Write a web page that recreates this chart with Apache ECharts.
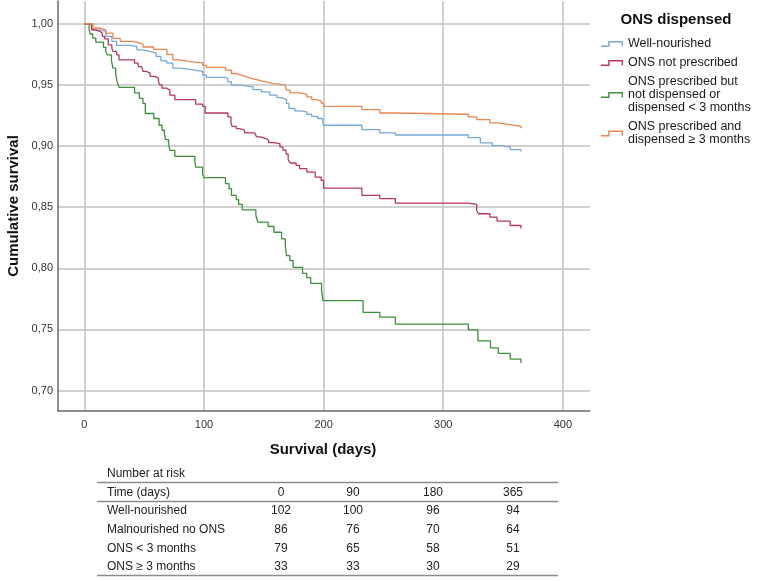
<!DOCTYPE html>
<html>
<head>
<meta charset="utf-8">
<script src="https://cdn.jsdelivr.net/npm/echarts@6/dist/echarts.min.js"></script>
<style>
  html, body { margin: 0; padding: 0; background: #fff; }
  #chart { width: 767px; height: 581px; }
</style>
</head>
<body>
<div id="chart"></div>
<script>
// Kaplan-Meier curves (day, cumulative survival after the drop)
const wellDays = [0, 7, 13, 18, 23, 27, 38, 44, 49, 55, 60, 64, 69, 74, 80, 91, 99, 102, 118, 120, 123, 130, 141, 148, 155, 161, 165, 169, 171, 176, 180, 186, 190, 195, 199, 200, 232, 247, 260, 321, 331, 341, 349, 356, 365]
const wellSurv = [1, 0.995, 0.9938, 0.9897, 0.9856, 0.9823, 0.9815, 0.9787, 0.9774, 0.976, 0.9733, 0.9697, 0.9678, 0.9637, 0.9623, 0.961, 0.958, 0.9561, 0.9552, 0.9525, 0.9498, 0.9484, 0.9462, 0.9443, 0.9416, 0.9396, 0.938, 0.9348, 0.9307, 0.9287, 0.9279, 0.926, 0.9243, 0.9225, 0.921, 0.917, 0.9134, 0.9107, 0.909, 0.9069, 0.9025, 0.9003, 0.8992, 0.897, 0.8955]

const noOnsDays = [0, 6, 9, 13, 15, 17, 20, 23, 24, 27, 29, 42, 45, 48, 49, 52, 55, 59, 62, 63, 65, 69, 71.5, 75.7, 93, 99, 101, 120, 122.6, 123.5, 127, 130, 134, 142.5, 144, 147, 152, 154, 158, 163.5, 166, 168.6, 170.4, 172, 177, 180, 186, 193, 198, 200, 232, 247, 260, 321, 328, 329.5, 339, 345, 356, 365]
const noOnsSurv = [1, 0.995, 0.9938, 0.9924, 0.9897, 0.9877, 0.9828, 0.98, 0.9774, 0.9746, 0.9705, 0.9678, 0.965, 0.9637, 0.961, 0.9596, 0.9569, 0.9555, 0.9528, 0.95, 0.9473, 0.9457, 0.9416, 0.938, 0.9342, 0.9325, 0.927, 0.9238, 0.9189, 0.9161, 0.9143, 0.9129, 0.9107, 0.9096, 0.9074, 0.9061, 0.9047, 0.9028, 0.902, 0.8993, 0.8966, 0.8934, 0.8889, 0.8861, 0.8842, 0.8815, 0.8787, 0.8746, 0.8719, 0.8656, 0.8596, 0.857, 0.8533, 0.8522, 0.8473, 0.8446, 0.8418, 0.8385, 0.835, 0.8325]

const shortDays = [0, 4, 5, 7, 9.6, 16, 18, 19, 22.7, 24, 26.3, 27.4, 29, 42, 46, 49, 51, 58, 62.5, 65, 67, 68, 70.4, 71.5, 75.7, 92.4, 93.2, 98.8, 100, 118, 121, 123, 127, 129, 132, 143.4, 145, 153.7, 158.5, 164.9, 168, 169, 171.8, 174.6, 182.4, 185.8, 189.2, 198.3, 199.5, 233, 247, 260, 321, 329, 339.5, 346, 356, 365]
const shortSurv = [1, 0.995, 0.9916, 0.9883, 0.985, 0.9807, 0.9774, 0.9746, 0.9697, 0.9637, 0.9582, 0.9528, 0.948, 0.9434, 0.9389, 0.9348, 0.9266, 0.9225, 0.917, 0.9129, 0.91, 0.9052, 0.9025, 0.8965, 0.8916, 0.8869, 0.8828, 0.8774, 0.8742, 0.8692, 0.8651, 0.8596, 0.8561, 0.8522, 0.8478, 0.8432, 0.8377, 0.8342, 0.8295, 0.8241, 0.8186, 0.8104, 0.8063, 0.8008, 0.7959, 0.7923, 0.7877, 0.7817, 0.7735, 0.764, 0.76, 0.7544, 0.7497, 0.7407, 0.735, 0.7304, 0.7257, 0.7225]

const longDays = [0, 7, 13, 18, 24, 30, 40, 44, 49, 58, 69, 74, 80, 88, 99, 102, 118, 123, 127, 131, 136, 140, 144, 148, 154, 158, 163, 168, 169, 172, 180, 186, 190, 194, 198, 200, 232, 247, 260, 321, 328, 339, 346, 356, 365]
const longSurv = [1, 0.9965, 0.995, 0.9924, 0.988, 0.9856, 0.985, 0.9834, 0.981, 0.979, 0.975, 0.9705, 0.969, 0.968, 0.966, 0.9643, 0.962, 0.9593, 0.958, 0.9566, 0.9552, 0.9544, 0.9533, 0.952, 0.9511, 0.9506, 0.9498, 0.9484, 0.9457, 0.9434, 0.9424, 0.9402, 0.938, 0.9369, 0.9352, 0.9325, 0.9298, 0.927, 0.926, 0.9238, 0.9216, 0.919, 0.9175, 0.916, 0.9145]

const seriesNames = ['Well-nourished', 'ONS not prescribed', 'ONS prescribed but not dispensed or dispensed < 3 months', 'ONS prescribed and dispensed ≥ 3 months']
const legendLabels = ['Well-nourished', 'ONS not prescribed', 'ONS prescribed but\nnot dispensed or\ndispensed < 3 months', 'ONS prescribed and\ndispensed ≥ 3 months']
const seriesColors = ['#76a8da', '#b5375c', '#3f8f3f', '#e8874f']

const xTicks = [0, 100, 200, 300, 400]
const yTicks = [0.70, 0.75, 0.80, 0.85, 0.90, 0.95, 1.00]

// number at risk table
const riskTimes = ['0', '90', '180', '365']
const riskGroups = ['Well-nourished', 'Malnourished no ONS', 'ONS < 3 months', 'ONS ≥ 3 months']
const riskWell = [102, 100, 96, 94]
const riskNoOns = [86, 76, 70, 64]
const riskShort = [79, 65, 58, 51]
const riskLong = [33, 33, 30, 29]

const font = '"Liberation Sans", Arial, sans-serif'
const toPairs = (days, surv) => days.map((d, i) => [d, surv[i]])
const curves = [toPairs(wellDays, wellSurv), toPairs(noOnsDays, noOnsSurv), toPairs(shortDays, shortSurv), toPairs(longDays, longSurv)]

// small step glyph like the SPSS legend
const stepIcon = 'path://M0,4.4 L7.2,4.4 L7.2,0 L22,0 L22,5.2 L20.6,5.2 L20.6,1.4 L8.6,1.4 L8.6,5.8 L0,5.8 Z'

// table graphics
const colX = [281, 353, 433, 513]
const rowY = [511, 530, 548.5, 567]
const riskRows = [riskWell, riskNoOns, riskShort, riskLong]
const tableText = (x, y, text, align) => ({
  type: 'text', x: x, y: y, silent: true,
  style: {text: text, font: '12px ' + font, fill: '#222', textAlign: align, textVerticalAlign: 'middle'}
})
const hLine = (y) => ({
  type: 'line', silent: true,
  shape: {x1: 97, y1: y, x2: 558, y2: y},
  style: {stroke: '#8c8c8c', lineWidth: 1.5}
})
const graphics = [
  {
    type: 'text', x: 14, y: 206, rotation: Math.PI / 2, silent: true,
    style: {text: 'Cumulative survival', font: 'bold 15px ' + font, fill: '#111', textAlign: 'center', textVerticalAlign: 'middle'}
  },
  {
    type: 'text', x: 323, y: 450, silent: true,
    style: {text: 'Survival (days)', font: 'bold 15px ' + font, fill: '#111', textAlign: 'center', textVerticalAlign: 'middle'}
  },
  {
    type: 'text', x: 676, y: 20, silent: true,
    style: {text: 'ONS dispensed', font: 'bold 15px ' + font, fill: '#111', textAlign: 'center', textVerticalAlign: 'middle'}
  },
  tableText(107, 473.5, 'Number at risk', 'left'),
  hLine(482.5),
  tableText(107, 492.5, 'Time (days)', 'left'),
  hLine(501.5),
  hLine(575.5)
]
riskTimes.forEach((t, j) => graphics.push(tableText(colX[j], 492.5, t, 'center')))
riskGroups.forEach((g, i) => {
  graphics.push(tableText(107, rowY[i], g, 'left'))
  riskRows[i].forEach((v, j) => graphics.push(tableText(colX[j], rowY[i], String(v), 'center')))
})

const myChart = echarts.init(document.getElementById('chart'), null, {renderer: 'canvas'})
myChart.setOption({
  animation: false,
  backgroundColor: '#fff',
  grid: {left: 58, right: 177, top: 1, bottom: 170},
  legend: {
    orient: 'vertical',
    left: 601,
    top: 37.5,
    padding: 0,
    itemWidth: 22,
    itemHeight: 6,
    itemGap: 6,
    icon: stepIcon,
    data: seriesNames,
    formatter: (name) => legendLabels[seriesNames.indexOf(name)],
    textStyle: {fontFamily: font, fontSize: 12.5, lineHeight: 13, color: '#1a1a1a'}
  },
  xAxis: {
    type: 'value',
    min: -22,
    max: 422.7,
    axisLine: {onZero: false, lineStyle: {color: '#6a6a6a', width: 1.5}},
    axisTick: {show: false, customValues: xTicks},
    axisLabel: {customValues: xTicks, color: '#333', fontFamily: font, fontSize: 11, margin: 8},
    splitLine: {show: true, lineStyle: {color: '#c2c2c2', width: 1.5}}
  },
  yAxis: {
    type: 'value',
    min: 0.6833,
    max: 1.0186,
    axisLine: {show: true, onZero: false, lineStyle: {color: '#6a6a6a', width: 1.5}},
    axisTick: {show: false, customValues: yTicks},
    axisLabel: {
      customValues: yTicks, color: '#333', fontFamily: font, fontSize: 11, margin: 5,
      formatter: (v) => v.toFixed(2).replace('.', ',')
    },
    splitLine: {show: true, lineStyle: {color: '#c2c2c2', width: 1.5}}
  },
  series: seriesNames.map((name, i) => ({
    name: name,
    type: 'line',
    step: 'end',
    data: curves[i],
    showSymbol: false,
    color: seriesColors[i],
    lineStyle: {color: seriesColors[i], width: 1.3},
    itemStyle: {color: seriesColors[i]}
  })),
  graphic: graphics
})
</script>
</body>
</html>
